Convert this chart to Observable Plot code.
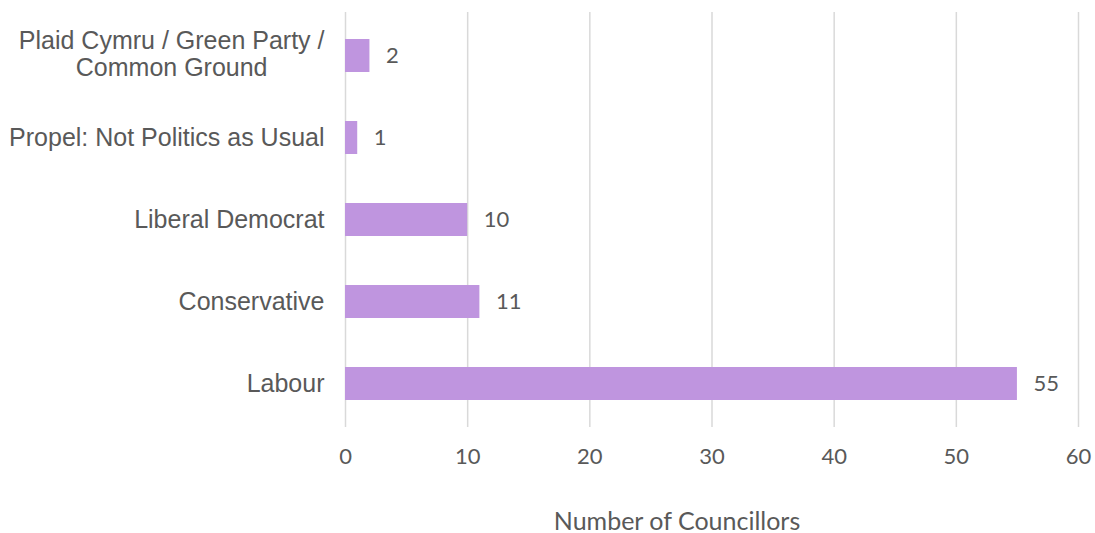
<!DOCTYPE html>
<html>
<head>
<meta charset="utf-8">
<script src="https://cdn.jsdelivr.net/npm/d3@7"></script>
<script src="https://cdn.jsdelivr.net/npm/@observablehq/plot@0.6"></script>
<style>
  html, body { margin: 0; padding: 0; background: #fff; }
</style>
</head>
<body>
<div id="chart"></div>
<script>
const parties = [
  "Plaid Cymru / Green Party /\nCommon Ground",
  "Propel: Not Politics as Usual",
  "Liberal Democrat",
  "Conservative",
  "Labour"
];
const councillors = [2, 1, 10, 11, 55];
const xTicks = [0, 10, 20, 30, 40, 50, 60];
const xLabel = "Number of Councillors";

const data = parties.map((p, i) => ({party: p, value: councillors[i]}));
const numFont = "Lato, 'Open Sans', sans-serif";

const chart = Plot.plot({
  width: 1095,
  height: 533,
  marginLeft: 345,
  marginRight: 17,
  marginTop: 12,
  marginBottom: 106,
  style: {background: "#fff"},
  x: {domain: [0, 60], ticks: xTicks},
  y: {domain: parties, paddingInner: 0.6, paddingOuter: 0.32},
  marks: [
    Plot.gridX(xTicks, {stroke: "#d9d9d9", strokeOpacity: 1, strokeWidth: 1.5}),
    Plot.barX(data, {x: "value", y: "party", fill: "#bf95df"}),
    Plot.text(data, {x: "value", y: "party", text: d => String(d.value), textAnchor: "start", dx: 16,
      fill: "#595959", fontSize: 22, fontFamily: numFont}),
    Plot.axisX(xTicks, {tickSize: 0, tickPadding: 21, fontSize: 22, fill: "#595959",
      fontFamily: numFont, label: null, tickFormat: d => String(d)}),
    Plot.axisY({tickSize: 0, tickPadding: 21, fontSize: 25, fill: "#595959", lineHeight: 1.05,
      fontFamily: "'Liberation Sans', Arial, sans-serif", label: null}),
    Plot.text([xLabel], {frameAnchor: "bottom", dx: -35, dy: 102, fontSize: 25, fill: "#595959",
      fontFamily: numFont})
  ]
});
document.getElementById("chart").appendChild(chart);

// center-align the lines of the multi-line category label, as in the reference
chart.querySelectorAll("g[aria-label='y-axis tick label'] text").forEach(t => {
  if (t.querySelectorAll("tspan").length > 1) {
    const w = t.getBBox().width;
    t.setAttribute("text-anchor", "middle");
    t.setAttribute("transform", (t.getAttribute("transform") || "") + ` translate(${-w / 2},-2)`);
  }
});
</script>
</body>
</html>
